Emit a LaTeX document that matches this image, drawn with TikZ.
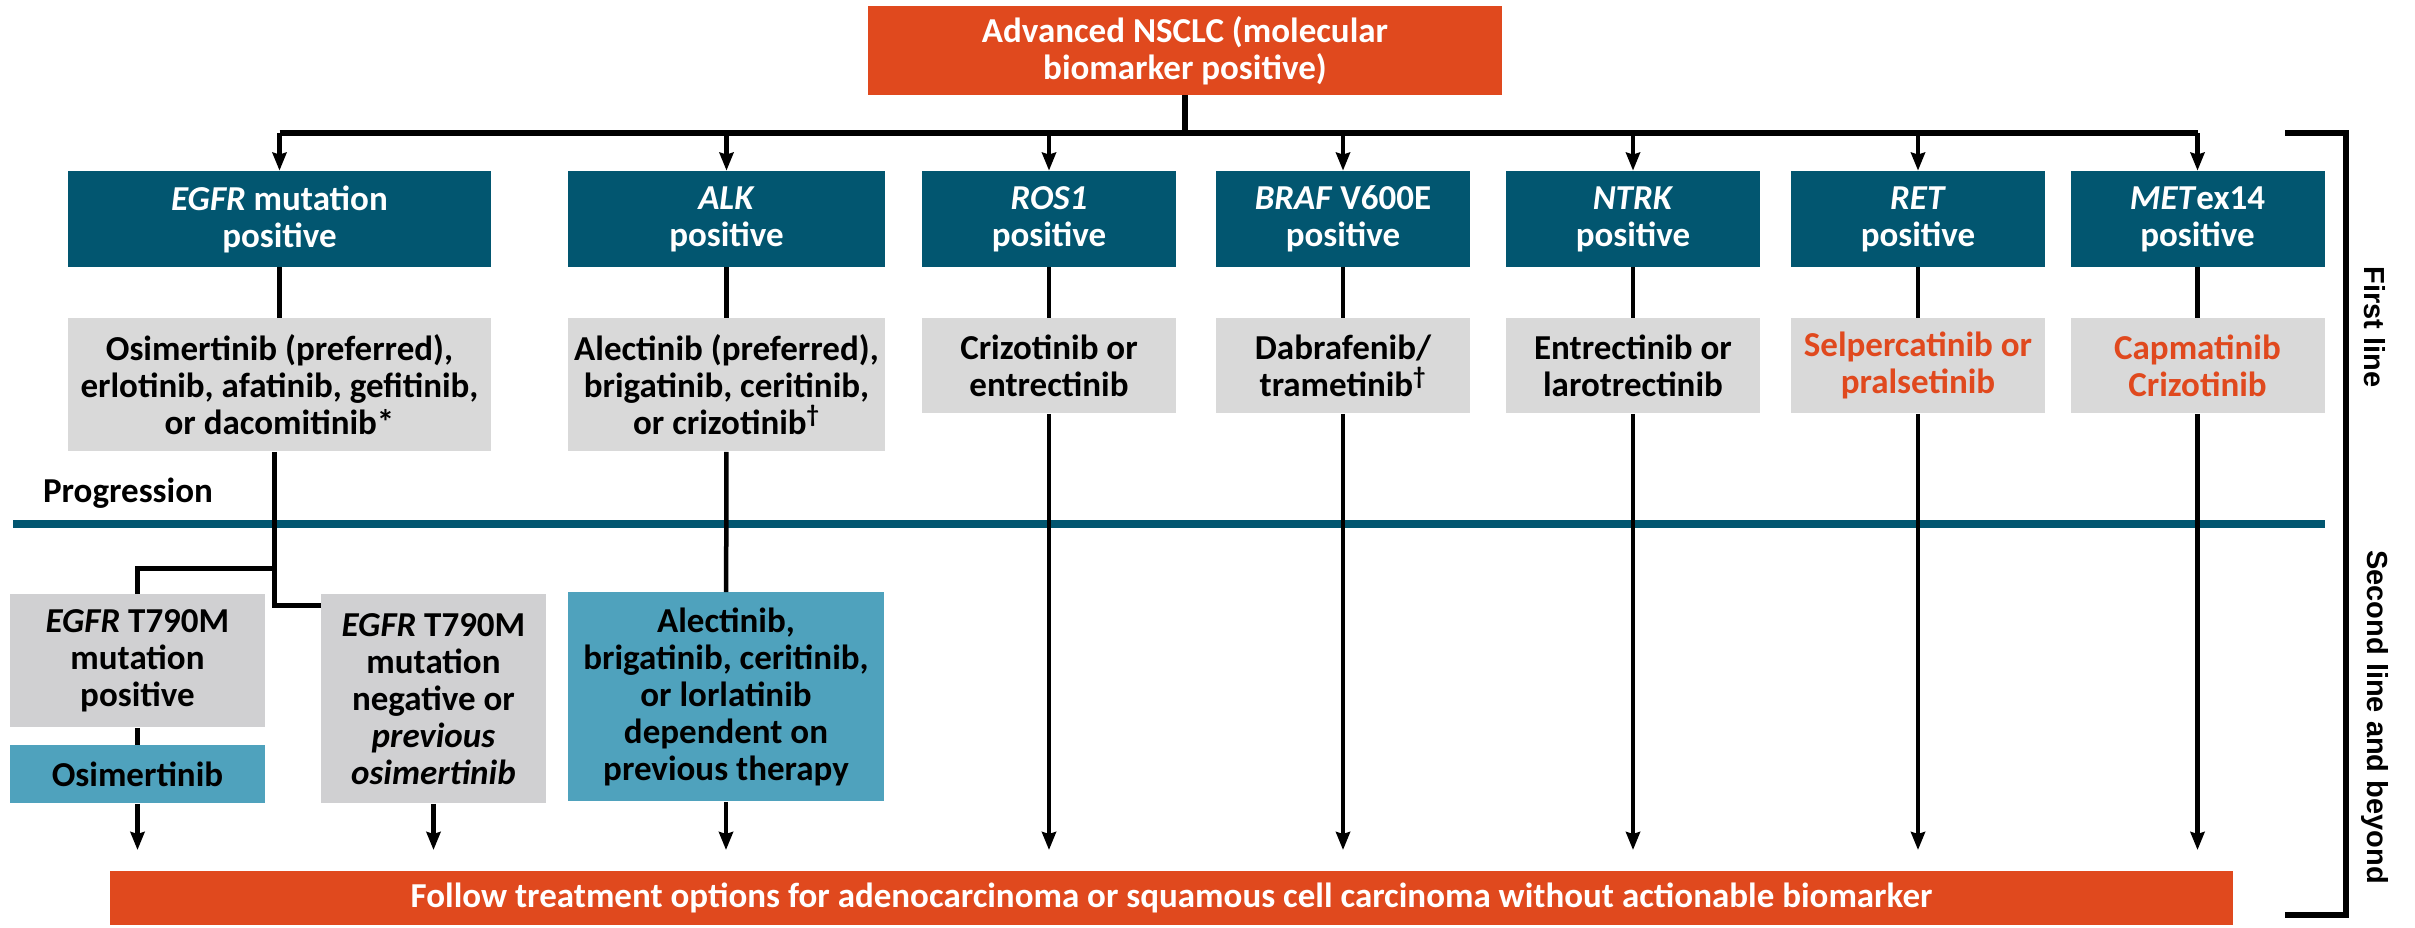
\documentclass[tikz,border=0pt]{standalone}
\usepackage{fontspec}
\setmainfont{Carlito}
\newfontfamily\sidefont{Liberation Sans}
\usepackage{tikz}
\usetikzlibrary{arrows.meta}
\definecolor{nsclcorange}{HTML}{E0491E}
\definecolor{darkteal}{HTML}{025670}
\definecolor{lightteal}{HTML}{4FA2BD}
\definecolor{boxgray}{HTML}{D9D9D9}
\definecolor{boxgray2}{HTML}{D0D0D2}
\newcommand{\boxfont}{\fontsize{17.5pt}{18.5pt}\selectfont\bfseries}
\tikzset{
  top node/.style={fill=nsclcorange,text=white,font=\boxfont,align=center,inner sep=0pt},
  main node/.style={fill=darkteal,text=white,font=\boxfont,align=center,inner sep=0pt,minimum height=48pt},
  drug node/.style={fill=boxgray,font=\boxfont,align=center,inner sep=0pt,anchor=north},
  later node/.style={fill=boxgray2,font=\boxfont,align=center,inner sep=0pt,anchor=north},
  therapy node/.style={fill=lightteal,font=\boxfont,align=center,inner sep=0pt,anchor=north},
  side text/.style={font=\sidefont\fontsize{14.5pt}{16pt}\selectfont\bfseries,rotate=-90},
  bus line/.style={line width=3pt},
  plain line/.style={line width=2.25pt},
  branch line/.style={line width=2.5pt},
  arrow line/.style={->,line width=2.25pt}
}

\begin{document}
\begin{tikzpicture}[x=0.5pt,y=-0.5pt,>={Stealth[length=9pt,width=7pt,inset=1pt]}]
\useasboundingbox (0,0) rectangle (2415,927);

% progression separator and bracket
\draw[darkteal,line width=4pt] (13,524) -- (2325,524);
\draw[bus line] (2285,133) -- (2346,133) -- (2346,915) -- (2285,915);
\node[side text] (first) at (2375,327) {First line};
\node[side text] (second) at (2375,717) {Second line and beyond};
\node[font=\boxfont,anchor=west] (prog) at (36,493) {Progression};

% top
\node[top node,minimum width=317pt,minimum height=44.5pt] (0) at (1185,50.5) {Advanced NSCLC (molecular\\biomarker positive)};

% biomarkers
\node[main node,minimum width=211.5pt] (1) at (279.5,219) {\textit{EGFR} mutation\\positive};
\node[main node,minimum width=158.5pt] (2) at (726.5,219) {\textit{ALK}\\positive};
\node[main node,minimum width=127pt] (3) at (1049,219) {\textit{ROS1}\\positive};
\node[main node,minimum width=127pt] (4) at (1343,219) {\textit{BRAF} V600E\\positive};
\node[main node,minimum width=127pt] (5) at (1633,219) {\textit{NTRK}\\positive};
\node[main node,minimum width=127pt] (6) at (1918,219) {\textit{RET}\\positive};
\node[main node,minimum width=127pt] (7) at (2197.5,219) {\textit{MET}ex14\\positive};

% first line
\node[drug node,minimum width=211.5pt,minimum height=66.5pt] (11) at (279.5,318) {Osimertinib (preferred),\\erlotinib, afatinib, gefitinib,\\or dacomitinib*};
\node[drug node,minimum width=158.5pt,minimum height=66.5pt] (12) at (726.5,318) {Alectinib (preferred),\\brigatinib, ceritinib,\\or crizotinib\textsuperscript{†}};
\node[drug node,minimum width=127pt,minimum height=47.5pt] (13) at (1049,318) {Crizotinib or\\entrectinib};
\node[drug node,minimum width=127pt,minimum height=47.5pt] (14) at (1343,318) {Dabrafenib/\\trametinib\textsuperscript{†}};
\node[drug node,minimum width=127pt,minimum height=47.5pt] (15) at (1633,318) {Entrectinib or\\larotrectinib};
\node[drug node,minimum width=127pt,minimum height=47.5pt,text=nsclcorange] (16) at (1918,318) {Selpercatinib or\\pralsetinib};
\node[drug node,minimum width=127pt,minimum height=47.5pt,text=nsclcorange] (17) at (2197.5,318) {Capmatinib\\Crizotinib};

% second line
\node[later node,minimum width=127.5pt,minimum height=66.5pt] (21) at (137.5,594) {\textit{EGFR} T790M\\mutation\\positive};
\node[therapy node,minimum width=127.5pt,minimum height=29pt] (22) at (137.5,745) {Osimertinib};
\node[later node,minimum width=112.5pt,minimum height=104.5pt] (23) at (433.5,594) {\textit{EGFR} T790M\\mutation\\negative or\\\textit{previous}\\\textit{osimertinib}};
\node[therapy node,minimum width=158pt,minimum height=104.5pt] (24) at (726,592) {Alectinib,\\brigatinib, ceritinib,\\or lorlatinib\\dependent on\\previous therapy};

\node[top node,minimum width=1061.5pt,minimum height=27pt] (30) at (1171.5,898) {Follow treatment options for adenocarcinoma or squamous cell carcinoma without actionable biomarker};

% connectors
\coordinate (bus) at (1185,133);
\coordinate (end) at (1185,850);
\coordinate (split) at (274.5,568);
\coordinate (join) at (274.5,605);
\draw[bus line] (0) -- (bus);
\draw[bus line] (1 |- bus) -- (7 |- bus);
\foreach \n in {1,...,7}
  \draw[arrow line] (\n |- bus) -- (\n);
\foreach \n in {1,...,7}
  \draw[plain line] (\n) -- (1\n);
\draw[plain line] ([xshift=-2.5pt]11.south) -- (split);
\draw[branch line] (split) -| (21);
\draw[branch line] (split) -- (join) -- (join -| 23.west);
\draw[plain line] (21) -- (22);
\draw[plain line] (12) -- (24);
\foreach \n in {22,23,24,13,14,15,16,17}
  \draw[arrow line] (\n) -- (\n |- end);
\end{tikzpicture}
\end{document}
